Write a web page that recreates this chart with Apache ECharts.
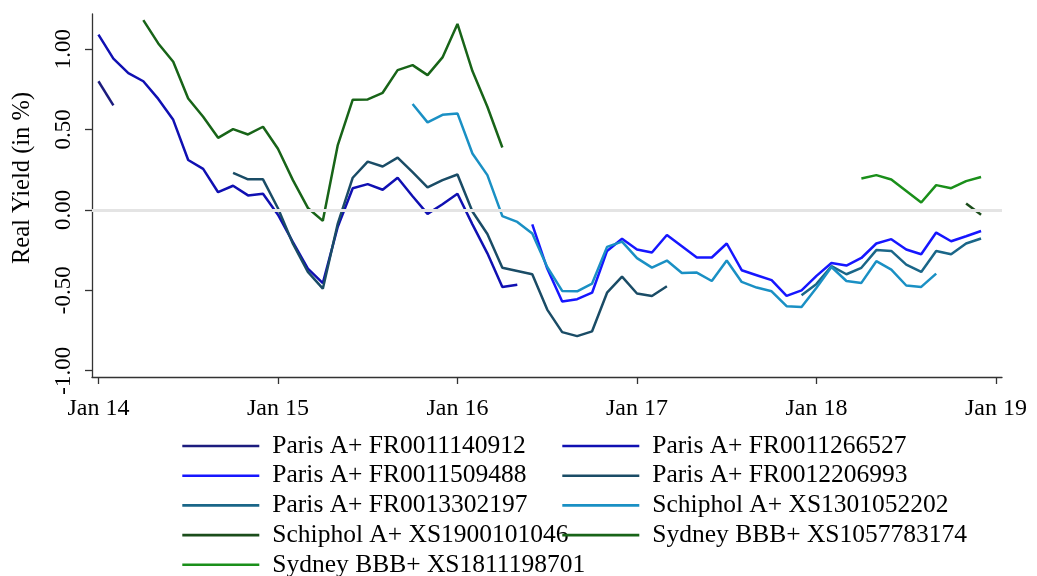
<!DOCTYPE html>
<html>
<head>
<meta charset="utf-8">
<title>Real Yield</title>
<script src="https://cdn.jsdelivr.net/npm/echarts@6/dist/echarts.min.js"></script>
<style>
  html, body { margin: 0; padding: 0; background: #fff; }
  #chart { width: 1037px; height: 576px; }
</style>
</head>
<body>
<div id="chart"></div>
<script>
// Monthly real yields (in %). Month index 0 = Jan 2014.
// Each bond: first month index + consecutive monthly values.
const parisFR0011140912Start = 0;
const parisFR0011140912 = [0.80, 0.65];

const parisFR0011266527Start = 0;
const parisFR0011266527 = [1.09, 0.94, 0.85, 0.80, 0.69, 0.56, 0.31, 0.255, 0.11, 0.15, 0.09, 0.10,
  -0.03, -0.20, -0.365, -0.455, -0.105, 0.135, 0.16, 0.125, 0.20, 0.085, -0.025, 0.035,
  0.10, -0.09, -0.27, -0.48, -0.465];

const parisFR0011509488Start = 29;
const parisFR0011509488 = [-0.09, -0.365, -0.57, -0.555, -0.515, -0.255, -0.18,
  -0.246, -0.265, -0.156, -0.226, -0.296, -0.296, -0.209, -0.375, -0.406, -0.437, -0.535, -0.50,
  -0.41, -0.33, -0.346, -0.299, -0.209, -0.182, -0.246, -0.276, -0.141, -0.195, -0.164, -0.131];

const parisFR0012206993Start = 9;
const parisFR0012206993 = [0.23, 0.19, 0.19,
  0.01, -0.21, -0.385, -0.49, -0.085, 0.20, 0.30, 0.27, 0.325, 0.235, 0.14, 0.185,
  0.22, -0.01, -0.15, -0.36, -0.38, -0.40, -0.62, -0.76, -0.785, -0.755, -0.515, -0.415,
  -0.52, -0.535, -0.475];

const parisFR0013302197Start = 47;
const parisFR0013302197 = [-0.53,
  -0.46, -0.35, -0.40, -0.36, -0.25, -0.255, -0.34, -0.386, -0.255, -0.276, -0.209, -0.178];

const schipholXS1301052202Start = 21;
const schipholXS1301052202 = [0.658, 0.544, 0.591,
  0.60, 0.351, 0.216, -0.039, -0.075, -0.147, -0.355, -0.504, -0.506, -0.458, -0.23, -0.197,
  -0.30, -0.359, -0.315, -0.392, -0.39, -0.442, -0.315, -0.448, -0.483, -0.506, -0.599, -0.604,
  -0.484, -0.355, -0.442, -0.454, -0.319, -0.371, -0.47, -0.479, -0.396];

const schipholXS1900101046Start = 58;
const schipholXS1900101046 = [0.04, -0.03];

const sydneyXS1057783174Start = 3;
const sydneyXS1057783174 = [1.18, 1.035, 0.921, 0.693, 0.579, 0.448, 0.502, 0.469, 0.517,
  0.38, 0.185, 0.012, -0.068, 0.403, 0.685, 0.687, 0.728, 0.869, 0.90, 0.838, 0.948,
  1.156, 0.863, 0.641, 0.388];

const sydneyXS1811198701Start = 51;
const sydneyXS1811198701 = [0.195, 0.216, 0.189, 0.118, 0.046, 0.154, 0.135, 0.179, 0.205];

// Axis ticks
const xTickMonths = [0, 12, 24, 36, 48, 60];
const xTickLabels = ['Jan 14', 'Jan 15', 'Jan 16', 'Jan 17', 'Jan 18', 'Jan 19'];
const yTicks = [-1, -0.5, 0, 0.5, 1];

const FONT = '"Liberation Serif", "Times New Roman", serif';

function toPairs(start, values) {
  return values.map((v, i) => [start + i, v]);
}

const bonds = [
  { name: 'Paris A+ FR0011140912', start: parisFR0011140912Start, values: parisFR0011140912, color: '#1c1c7e' },
  { name: 'Paris A+ FR0011266527', start: parisFR0011266527Start, values: parisFR0011266527, color: '#1010b2' },
  { name: 'Paris A+ FR0011509488', start: parisFR0011509488Start, values: parisFR0011509488, color: '#1616ff' },
  { name: 'Paris A+ FR0012206993', start: parisFR0012206993Start, values: parisFR0012206993, color: '#1a4c66' },
  { name: 'Paris A+ FR0013302197', start: parisFR0013302197Start, values: parisFR0013302197, color: '#1a6688' },
  { name: 'Schiphol A+ XS1301052202', start: schipholXS1301052202Start, values: schipholXS1301052202, color: '#1a90c4' },
  { name: 'Schiphol A+ XS1900101046', start: schipholXS1900101046Start, values: schipholXS1900101046, color: '#1b4d1b' },
  { name: 'Sydney BBB+ XS1057783174', start: sydneyXS1057783174Start, values: sydneyXS1057783174, color: '#186418' },
  { name: 'Sydney BBB+ XS1811198701', start: sydneyXS1811198701Start, values: sydneyXS1811198701, color: '#1a8f1a' }
];

const series = [
  {
    // zero reference line
    type: 'line',
    data: [],
    silent: true,
    z: 1,
    markLine: {
      silent: true,
      symbol: 'none',
      label: { show: false },
      lineStyle: { color: '#e4e4e4', width: 3, type: 'solid' },
      data: [{ yAxis: 0 }]
    }
  }
].concat(bonds.map(b => ({
  name: b.name,
  type: 'line',
  data: toPairs(b.start, b.values),
  symbol: 'none',
  z: 3,
  lineStyle: { color: b.color, width: 2.5 },
  itemStyle: { color: b.color }
})));

const legendCommon = {
  orient: 'vertical',
  top: 433,
  height: 200,
  padding: 0,
  itemWidth: 77,
  itemHeight: 14,
  itemGap: 3.7,
  selectedMode: false,
  itemStyle: { color: 'rgba(0,0,0,0)', borderColor: 'rgba(0,0,0,0)', borderWidth: 0, opacity: 0 },
  lineStyle: { width: 2.6 },
  textStyle: { fontFamily: FONT, fontSize: 25.5, color: '#000', padding: [0, 0, 0, 8] }
};

const option = {
  animation: false,
  backgroundColor: '#fff',
  grid: { left: 92, right: 35, top: 14, bottom: 199, containLabel: false },
  xAxis: {
    type: 'value',
    min: -0.43,
    max: 60.4,
    splitLine: { show: false },
    axisLine: { show: true, onZero: false, lineStyle: { color: '#333', width: 1.3 } },
    axisTick: { show: true, customValues: xTickMonths, length: 7, lineStyle: { color: '#333', width: 1.3 } },
    axisLabel: {
      customValues: xTickMonths,
      formatter: v => xTickLabels[xTickMonths.indexOf(Math.round(v))] || '',
      fontFamily: FONT, fontSize: 24, color: '#000', margin: 20
    }
  },
  yAxis: {
    type: 'value',
    min: -1.039,
    max: 1.218,
    splitLine: { show: false },
    axisLine: { show: true, onZero: false, lineStyle: { color: '#333', width: 1.3 } },
    axisTick: { show: true, customValues: yTicks, length: 7, lineStyle: { color: '#333', width: 1.3 } },
    axisLabel: {
      customValues: yTicks,
      rotate: 90,
      formatter: v => v.toFixed(2),
      fontFamily: FONT, fontSize: 23, color: '#000', margin: 17
    }
  },
  legend: [
    Object.assign({ left: 181, data: [bonds[0].name, bonds[2].name, bonds[4].name, bonds[6].name, bonds[8].name] }, legendCommon),
    Object.assign({ left: 561, data: [bonds[1].name, bonds[3].name, bonds[5].name, bonds[7].name] }, legendCommon)
  ],
  graphic: [{
    type: 'text',
    x: 23,
    y: 178,
    rotation: Math.PI / 2,
    style: {
      text: 'Real Yield (in %)',
      fontFamily: FONT,
      fontSize: 24.5,
      fill: '#000',
      align: 'center',
      verticalAlign: 'middle'
    }
  }],
  series: series
};

const chart = echarts.init(document.getElementById('chart'), null, { renderer: 'canvas' });
chart.setOption(option);
</script>
</body>
</html>
